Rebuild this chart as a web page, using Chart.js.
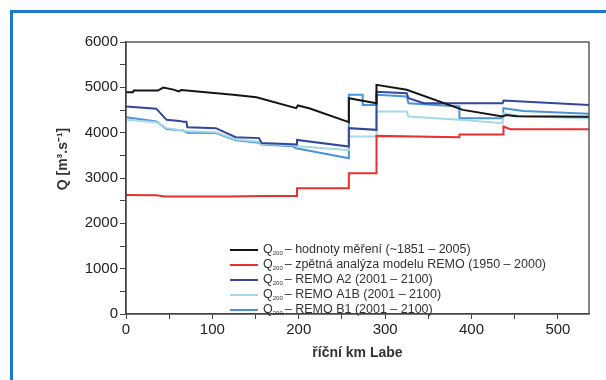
<!DOCTYPE html>
<html>
<head>
<meta charset="utf-8">
<script src="https://cdn.jsdelivr.net/npm/chart.js@4"></script>
<style>
  html, body { margin: 0; padding: 0; background: #fff; }
  #wrap { position: relative; width: 606px; height: 380px; overflow: hidden; }
  #frame { position: absolute; left: 10px; top: 10px; width: 700px; height: 500px;
           border-left: 3px solid #1b78cc; border-top: 3px solid #1b78cc; }
  canvas { position: absolute; left: 0; top: 0; }
</style>
</head>
<body>
<div id="wrap">
  <div id="frame"></div>
  <canvas id="chart" width="606" height="380"></canvas>
</div>
<script>
// river km (x) and Q200 in m3/s (y)
var km_measured = [0, 8, 9, 37, 43, 55, 61, 64, 124, 151, 197, 199, 212, 258, 258, 290, 290, 325, 390, 436, 440, 452, 536]
var q_measured  = [4890, 4890, 4930, 4930, 4996, 4950, 4910, 4940, 4834, 4783, 4540, 4600, 4540, 4232, 4760, 4650, 5055, 4945, 4503, 4356, 4390, 4360, 4350]

var km_remo_hist = [0, 35, 45, 120, 157, 198, 198, 258, 258, 290, 290, 386, 386, 437, 437, 445, 536]
var q_remo_hist  = [2627, 2620, 2590, 2590, 2605, 2605, 2773, 2773, 3105, 3105, 3929, 3900, 3960, 3960, 4135, 4077, 4077]

var km_a2 = [0, 12, 35, 47, 62, 66, 70, 71, 104, 127, 154, 157, 193, 198, 198, 258, 258, 290, 290, 325, 327, 345, 436, 437, 536]
var q_a2  = [4577, 4560, 4530, 4283, 4260, 4240, 4240, 4120, 4100, 3900, 3880, 3770, 3745, 3740, 3840, 3693, 4100, 4062, 4900, 4870, 4760, 4650, 4650, 4709, 4613]

var km_a1b = [0, 35, 47, 71, 104, 127, 154, 157, 193, 198, 257, 258, 258, 290, 290, 325, 327, 386, 436, 437, 460, 536]
var q_a1b  = [4283, 4230, 4100, 4030, 4010, 3850, 3800, 3750, 3720, 3700, 3620, 3620, 3915, 3915, 4467, 4467, 4356, 4283, 4210, 4430, 4356, 4320]

var km_b1 = [0, 35, 47, 66, 71, 104, 127, 154, 157, 193, 197, 258, 258, 274, 274, 290, 290, 325, 327, 386, 386, 436, 437, 460, 536]
var q_b1  = [4342, 4245, 4080, 4050, 4000, 3990, 3830, 3780, 3740, 3700, 3657, 3437, 4834, 4834, 4613, 4613, 4834, 4800, 4650, 4577, 4320, 4320, 4540, 4480, 4420]

var legend_names = [
  '– hodnoty měření (~1851 – 2005)',
  '– zpětná analýza modelu REMO (1950 – 2000)',
  '– REMO A2 (2001 – 2100)',
  '– REMO A1B (2001 – 2100)',
  '– REMO B1 (2001 – 2100)'
]
var line_colors = ['#151515', '#e8312f', '#33469d', '#a3d8e6', '#4b93d8']
var y_title = 'Q [m³.s⁻¹]'

var FONT = '"Liberation Sans", Arial, sans-serif'

function toPoints(xs, ys) {
  return xs.map((x, i) => ({x: x, y: ys[i]}))
}

var series = [
  toPoints(km_measured, q_measured),
  toPoints(km_remo_hist, q_remo_hist),
  toPoints(km_a2, q_a2),
  toPoints(km_a1b, q_a1b),
  toPoints(km_b1, q_b1)
]

// box round the plot, y title and the legend inside the plot area
var boxAndLegend = {
  id: 'boxAndLegend',
  afterDraw(chart) {
    const ctx = chart.ctx, a = chart.chartArea
    ctx.save()
    ctx.strokeStyle = '#444'
    ctx.lineWidth = 1.3
    ctx.strokeRect(a.left, a.top, a.right - a.left, a.bottom - a.top)

    // y title sits a bit above the middle in the original
    ctx.save()
    ctx.translate(a.left - 63, a.top + 117)
    ctx.rotate(-Math.PI / 2)
    ctx.font = 'bold 14px ' + FONT
    ctx.fillStyle = '#333'
    ctx.textAlign = 'center'
    ctx.textBaseline = 'middle'
    ctx.fillText(y_title, 0, 0)
    ctx.restore()

    let x0 = a.left + 104, y0 = a.top + 208
    legend_names.forEach((name, i) => {
      let y = y0 + i * 15
      ctx.strokeStyle = line_colors[i]
      ctx.lineWidth = 2
      ctx.beginPath()
      ctx.moveTo(x0, y)
      ctx.lineTo(x0 + 28, y)
      ctx.stroke()
      ctx.fillStyle = '#333'
      ctx.textBaseline = 'middle'
      ctx.font = '12.5px ' + FONT
      let tx = x0 + 33
      ctx.fillText('Q', tx, y)
      tx += ctx.measureText('Q').width
      ctx.font = '6px ' + FONT
      ctx.fillText('200', tx, y + 3)
      tx += ctx.measureText('200').width + 2
      ctx.font = '12.5px ' + FONT
      ctx.fillText(name, tx, y)
    })
    ctx.restore()
  }
}

new Chart(document.getElementById('chart').getContext('2d'), {
  type: 'line',
  data: {
    datasets: series.map((pts, i) => ({
      label: 'Q₂₀₀ ' + legend_names[i],
      data: pts,
      borderColor: line_colors[i],
      borderWidth: 2,
      pointRadius: 0,
      tension: 0,
      fill: false
    }))
  },
  options: {
    responsive: false,
    animation: false,
    layout: { padding: { left: 50, right: 17, top: 42, bottom: 18 } },
    plugins: {
      legend: { display: false },
      tooltip: { enabled: false }
    },
    scales: {
      x: {
        type: 'linear',
        min: 0,
        max: 536,
        grid: { drawOnChartArea: false, tickLength: 5, color: '#444' },
        border: { color: '#444', width: 1.3 },
        ticks: {
          stepSize: 50,
          includeBounds: false,
          autoSkip: false,
          maxRotation: 0,
          padding: 2,
          color: '#222',
          font: { family: FONT, size: 15 },
          callback: v => (v % 100 === 0 ? v : '')
        },
        title: {
          display: true,
          text: 'říční km Labe',
          color: '#333',
          font: { family: FONT, size: 14, weight: 'bold' },
          padding: { top: 2, bottom: 0 }
        },
        afterFit: s => { s.height = 48 }
      },
      y: {
        min: 0,
        max: 6000,
        grid: { drawOnChartArea: false, tickLength: 6, color: '#444' },
        border: { color: '#444', width: 1.3 },
        ticks: {
          stepSize: 500,
          autoSkip: false,
          padding: 2,
          color: '#222',
          font: { family: FONT, size: 15 },
          callback: v => (v % 1000 === 0 ? v : '')
        },
        afterFit: s => { s.width = 76 }
      }
    }
  },
  plugins: [boxAndLegend]
});
</script>
</body>
</html>
